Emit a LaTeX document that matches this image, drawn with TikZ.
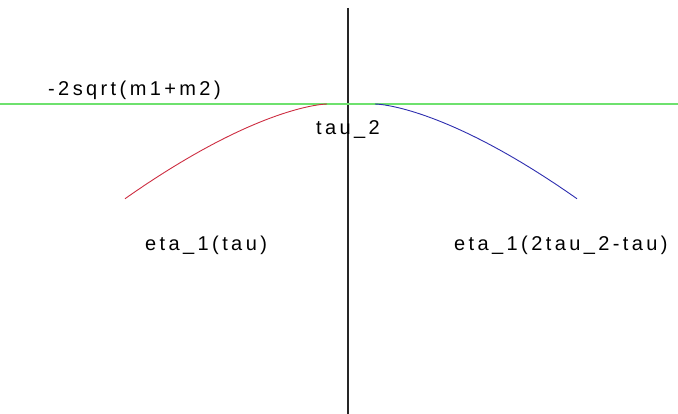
\documentclass[tikz,border=0pt]{standalone}
\usepackage{fontspec}
\setmainfont{Liberation Sans}[LetterSpace=17]
\definecolor{lingreen}{RGB}{110,225,110}
\definecolor{curvered}{RGB}{205,45,65}
\definecolor{curveblue}{RGB}{45,45,175}

\begin{document}
\begin{tikzpicture}[x=1pt, y=-1pt, lbl/.style={font=\fontsize{20}{24}\selectfont, inner sep=0pt, anchor=west}]
  %--- parameters to tweak layout easily
  \def\W{678}
  \def\H{414}
  \def\xaxis{348}        % vertical line
  \def\ylevel{104}       % level -2sqrt(m1+m2)
  \def\xl{327}           % end of red curve
  \def\xr{375}           % start of blue curve

  \useasboundingbox (0,0) rectangle (\W,\H);

  %--- axes
  \draw[line width=1.6pt, black!85] (\xaxis,8) -- (\xaxis,\H);
  \draw[line width=1.2pt, lingreen] (0,\ylevel) -- (\W,\ylevel);

  %--- eta_1(tau) and its mirror image
  \draw[curvered, line width=0.9pt] plot[domain=0:202, samples=60]
    ({\xl-\x}, {\ylevel+0.033*pow(\x,1.5)});
  \draw[curveblue, line width=0.9pt] plot[domain=0:202, samples=60]
    ({\xr+\x}, {\ylevel+0.033*pow(\x,1.5)});

  %--- labels
  \node[lbl] (lvl) at (48,90) {-2sqrt(m1+m2)};
  \node[lbl] (tau) at (316,130) {tau\_2};
  \node[lbl] (left) at (145,245) {eta\_1(tau)};
  \node[lbl] (right) at (454,245) {eta\_1(2tau\_2-tau)};
\end{tikzpicture}
\end{document}
